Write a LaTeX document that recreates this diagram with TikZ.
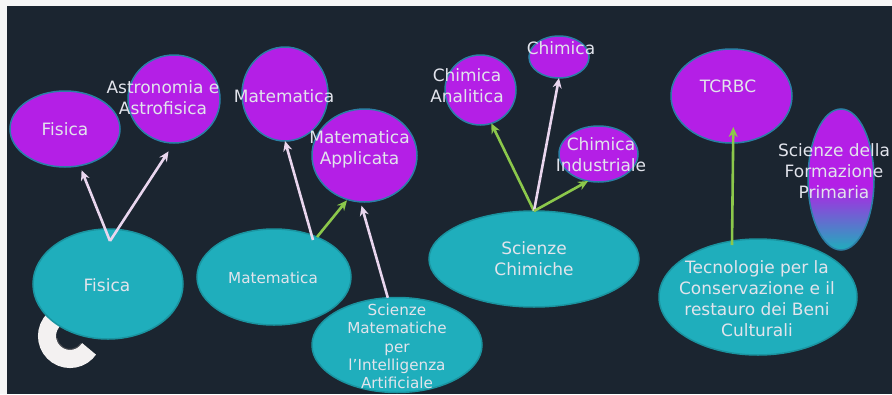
\documentclass[tikz,border=0pt]{standalone}
\usepackage{fontspec}
\setmainfont{DejaVu Sans}
\usetikzlibrary{arrows.meta,shapes.geometric}
\definecolor{pagebg}{HTML}{F6F6F6}
\definecolor{darkbg}{HTML}{1B2530}
\definecolor{violet}{HTML}{B41FE6}
\definecolor{tealc}{HTML}{1FAEBC}
\definecolor{edgec}{HTML}{2B7FA6}
\definecolor{lilac}{HTML}{E9D6EE}
\definecolor{leaf}{HTML}{8CC84B}
\definecolor{txtlight}{HTML}{E2E4EC}
\definecolor{ringc}{HTML}{F3F1F1}
\definecolor{ringsh}{HTML}{474A50}
\pgfdeclareverticalshading{vtfade}{100bp}{color(0bp)=(tealc); color(25bp)=(tealc); color(48bp)=(violet); color(100bp)=(violet)}
\tikzset{
  blob/.style={ellipse,draw=edgec,line width=1.5pt,inner sep=0pt,outer sep=0pt},
  sub/.style={blob,fill=violet},
  deg/.style={blob,fill=tealc,draw=tealc!85!black},
  bigt/.style={text=txtlight,align=center,inner sep=0pt,font=\fontsize{17}{21}\selectfont},
  smallt/.style={text=txtlight,align=center,inner sep=0pt,font=\fontsize{15.2}{18.6}\selectfont},
  midt/.style={text=txtlight,align=center,inner sep=0pt,font=\fontsize{15.2}{18.4}\selectfont},
  lilacarrow/.style={draw=lilac,line width=2.6pt,-{Stealth[length=10pt,width=9pt]}},
  leafarrow/.style={draw=leaf,line width=2.6pt,-{Stealth[length=10pt,width=9pt]}}
}
\begin{document}
\begin{tikzpicture}[x=1pt,y=-1pt]
\useasboundingbox (0,0) rectangle (892,394);
\fill[pagebg] (0,0) rectangle (892,394);
\fill[darkbg] (7,6) rectangle (892,394);
% ring behind the Fisica ellipse
\draw[ringsh,line width=1.5pt] (70,336) ++(34:13.5) arc[start angle=34,end angle=170,radius=13.5];
\draw[ringc,line width=18pt] (70,336) ++(34:23) arc[start angle=34,end angle=250,radius=23];
% purple ellipses
\node[sub,minimum width=110pt,minimum height=76pt,label={[bigt]center:Fisica}] (pfis) at (65,129) {};
\node[sub,minimum width=92pt,minimum height=88pt,label={[bigt,xshift=-11pt,yshift=1pt]center:Astronomia e\\Astrofisica}] (past) at (174,99) {};
\node[sub,minimum width=86pt,minimum height=94pt,label={[bigt,xshift=-1pt,yshift=-2pt]center:Matematica}] (pmat) at (285,94) {};
\node[sub,minimum width=105pt,minimum height=93pt,label={[bigt,xshift=-5pt,yshift=6pt]center:Matematica\\Applicata}] (papp) at (364.5,155.5) {};
\node[sub,minimum width=71pt,minimum height=70pt,label={[bigt,xshift=-13.5pt,yshift=4pt]center:Chimica\\Analitica}] (pana) at (480.5,90) {};
\node[sub,minimum width=60pt,minimum height=42pt,label={[bigt,xshift=2pt,yshift=9pt]center:Chimica}] (pchi) at (559,57) {};
\node[sub,minimum width=79pt,minimum height=56pt,label={[bigt,xshift=2.5pt,yshift=-1pt]center:Chimica\\Industriale}] (pind) at (598.5,154) {};
\node[sub,minimum width=121pt,minimum height=94pt,label={[bigt,xshift=-3.5pt,yshift=10pt]center:TCRBC}] (ptcr) at (731.5,96) {};
\node[blob,shading=vtfade,minimum width=66pt,minimum height=141pt,
  label={[bigt,xshift=-7pt,yshift=8.5pt]center:Scienze della\\Formazione\\Primaria}] (ppri) at (841,179.5) {};
% teal ellipses
\node[deg,minimum width=150pt,minimum height=110pt,label={[bigt,xshift=-1pt,yshift=-1pt]center:Fisica}] (tfis) at (108,284) {};
\node[deg,minimum width=154pt,minimum height=96pt,label={[smallt,xshift=-1pt,yshift=-1pt]center:Matematica}] (tmat) at (274,277) {};
\node[deg,minimum width=170pt,minimum height=95pt,label={[midt,yshift=-1.5pt]center:Scienze\\Matematiche\\per\\l’Intelligenza\\Artificiale}] (tsia) at (397,345) {};
\node[deg,minimum width=210pt,minimum height=96pt,label={[bigt]center:Scienze\\Chimiche}] (tchi) at (534,259) {};
\node[deg,minimum width=198pt,minimum height=116pt,label={[bigt,xshift=-1pt,yshift=-2pt]center:Tecnologie per la\\Conservazione e il\\restauro dei Beni\\Culturali}] (ttec) at (758,297) {};
% connector starts inside the teal ellipses
\coordinate (ofis) at (110,241);
\coordinate (omat) at (313,240);
\coordinate (omatb) at (317,237);
\coordinate (otec) at (732,245);
% connectors
\draw[lilacarrow,shorten >=5pt] (ofis) -- (pfis);
\draw[lilacarrow,shorten >=10pt] (ofis) -- (past.south);
\draw[lilacarrow] (omat) -- (pmat.south);
\draw[leafarrow,shorten >=1pt] (omatb) -- (papp.249);
\draw[lilacarrow,shorten >=4pt] (tsia.101) -- (papp.265);
\draw[leafarrow] (tchi.north) -- (pana.288);
\draw[lilacarrow] (tchi.north) -- (pchi.south);
\draw[leafarrow] (tchi.north) -- (pind.249);
\draw[leafarrow,shorten >=-16pt] (otec) -- (ptcr.272);
\end{tikzpicture}
\end{document}
